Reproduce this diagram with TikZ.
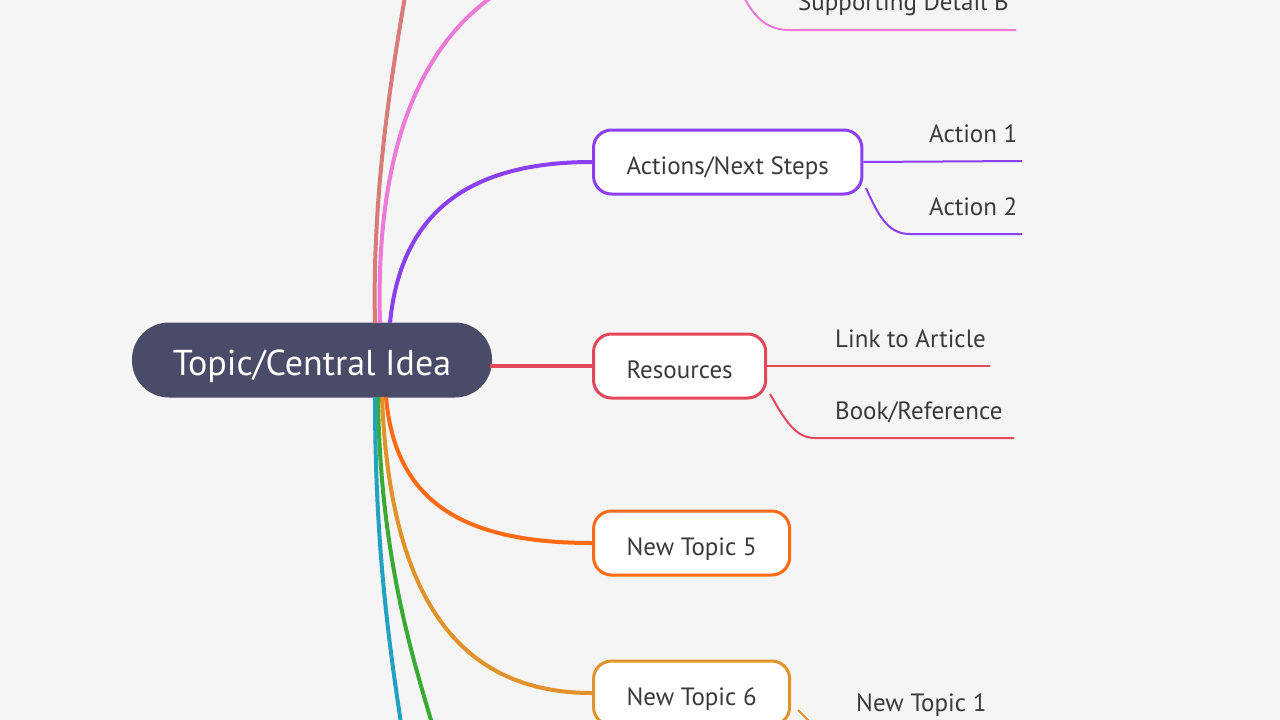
\documentclass[tikz,border=0pt]{standalone}
\usepackage{fontspec}
\setmainfont{PT Sans}
\definecolor{bg}{HTML}{F5F5F5}
\definecolor{cen}{HTML}{4A4B68}
\definecolor{cbrown}{HTML}{D97B78}
\definecolor{cpink}{HTML}{EC7AD6}
\definecolor{cpurple}{HTML}{8A3FF0}
\definecolor{cred}{HTML}{E3485A}
\definecolor{corange}{HTML}{FF6A12}
\definecolor{cgold}{HTML}{E2922A}
\definecolor{cgreen}{HTML}{3AAA35}
\definecolor{cteal}{HTML}{22A2C0}
\definecolor{txt}{HTML}{3A3A3A}
\newcommand{\tlow}[2]{\raisebox{-#1}[0pt][0pt]{#2}}
\begin{document}
\begin{tikzpicture}[x=1pt,y=-1pt,
  topic/.style={draw=#1,line width=3pt,fill=white,rounded corners=18pt,minimum height=64pt,anchor=west,text=txt,font=\fontsize{25}{28}\selectfont,inner ysep=0pt,inner xsep=33pt},
  br/.style={draw=#1,line width=4pt},
  sub/.style={draw=#1,line width=2pt},
  lab/.style={text=txt,font=\fontsize{25}{28}\selectfont,anchor=base west,inner sep=0pt}]
\useasboundingbox[fill=bg] (0,0) rectangle (1280,720);
\begin{scope}
\clip (0,0) rectangle (1280,720);
% central
\node[fill=cen,rounded corners=37pt,minimum width=360pt,minimum height=75pt,text=white,font=\fontsize{36}{40}\selectfont,inner sep=0pt] (c) at (312,360) {\tlow{15pt}{Topic/Central Idea}};
% branches up
\draw[br=cbrown] (375,323) .. controls (372,200) and (390,80) .. (408,-20);
\draw[br=cpink] (380,323) .. controls (375,150) and (420,30) .. (520,-20);
\draw[sub=cpink] (735,-20) .. controls (750,10) and (760,30) .. (790,30) -- (1016,30);
\node[lab] (sdb) at (798,10) {Supporting Detail B};
% actions
\node[topic=cpurple] (a) at (592,162) {\tlow{12pt}{Actions/Next Steps}\hspace{10pt}};
\draw[br=cpurple] (390,323) .. controls (400,220) and (460,162) .. (a.west);
\draw[sub=cpurple] (a.east) -- (1022,161);
\node[lab] (a1) at (929,142) {Action 1};
\draw[sub=cpurple] (866,188) .. controls (880,220) and (890,234) .. (910,234) -- (1022,234);
\node[lab] (a2) at (929,215) {Action 2};
% resources
\node[topic=cred] (r) at (592,366) {\tlow{12pt}{Resources}\hspace{10pt}};
\coordinate (ce) at (490,366);
\draw[br=cred] (ce) -- (r.west);
\draw[sub=cred] (r.east) -- (990,366);
\node[lab] (r1) at (835,347) {Link to Article};
\draw[sub=cred] (770,394) .. controls (785,420) and (795,438) .. (815,438) -- (1014,438);
\node[lab] (r2) at (835,419) {Book/Reference};
% new topic 5
\node[topic=corange] (n5) at (592,543) {\tlow{12pt}{New Topic 5}\hspace{8pt}};
\draw[br=corange] (386,397) .. controls (395,500) and (460,543) .. (n5.west);
% new topic 6
\node[topic=cgold] (n6) at (592,693) {\tlow{12pt}{New Topic 6}\hspace{8pt}};
\draw[br=cgold] (382,397) .. controls (390,600) and (460,693) .. (n6.west);
\draw[sub=cgold] (798,710) -- (818,730);
\node[lab] (n1) at (856,711) {New Topic 1};
% down lines
\draw[br=cgreen] (378,397) .. controls (380,550) and (410,650) .. (434,730);
\draw[br=cteal] (375,397) .. controls (375,550) and (390,650) .. (402,730);
\end{scope}
\end{tikzpicture}
\end{document}
